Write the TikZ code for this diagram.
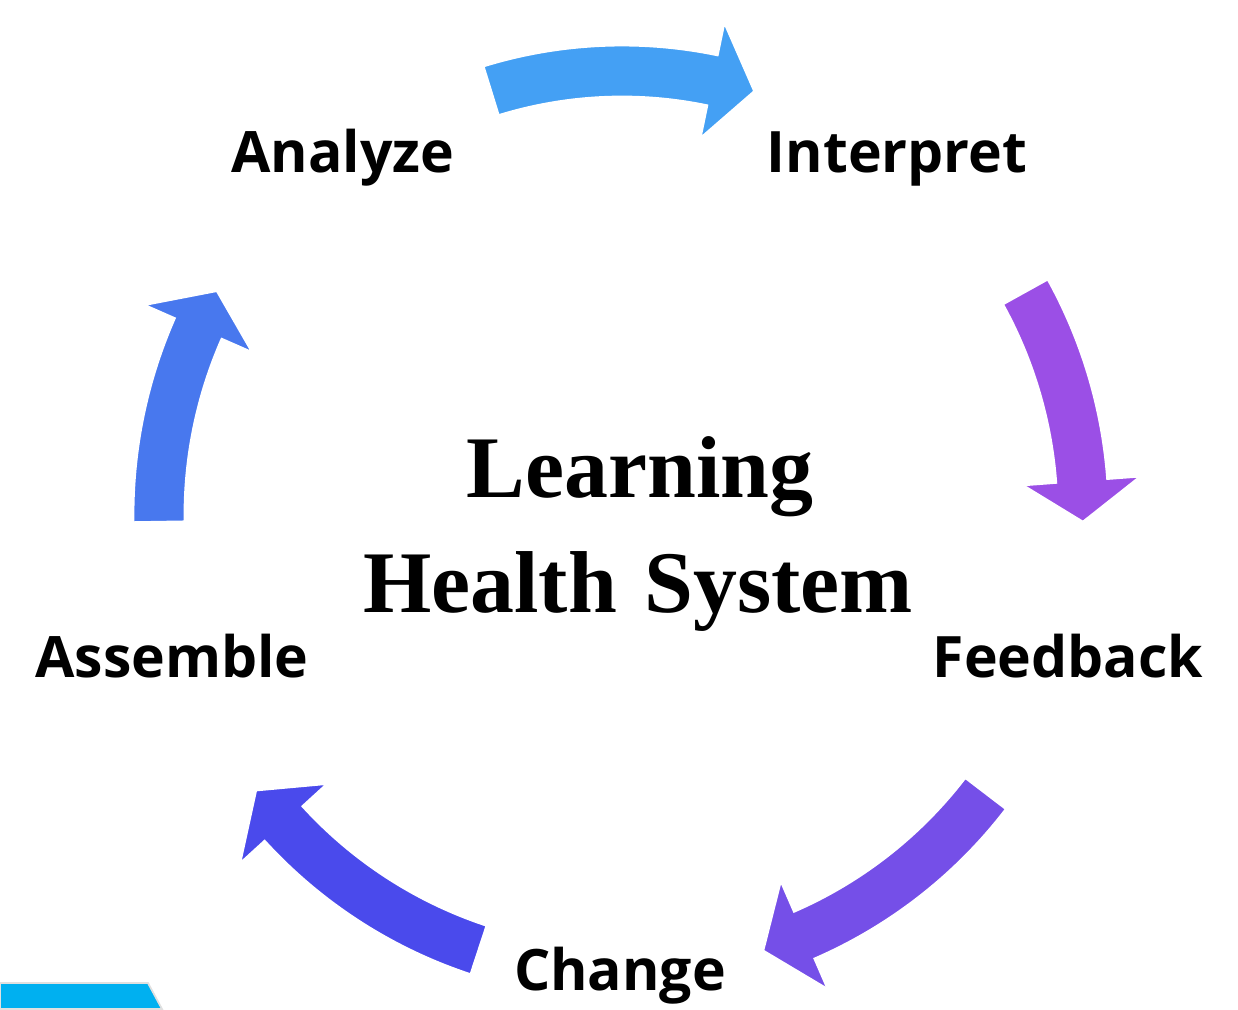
\documentclass[tikz,border=0pt]{standalone}
\usepackage{fontspec}
\setmainfont{Liberation Serif}
\newfontfamily\stepfont{Open Sans}
\usetikzlibrary{positioning}
\definecolor{cyclesky}{HTML}{44A0F4}
\definecolor{cyclepurple}{HTML}{9B4FE6}
\definecolor{cycleviolet}{HTML}{754FE8}
\definecolor{cycleindigo}{HTML}{4A4AEC}
\definecolor{cycleblue}{HTML}{4878EE}
\definecolor{cornercyan}{HTML}{00B0F0}

% curved arrow on the cycle: {colour}{radius}{tail angle}{head base angle}{tip angle}
\newcommand{\cyclearrow}[5]{%
  \filldraw[#1, draw=white, line width=1.6pt, line join=miter]
    (#3:{#2+26}) arc[start angle=#3, end angle=#4, radius={#2+26}]
    -- (#4:{#2+60}) -- (#5:#2) -- (#4:{#2-60}) -- (#4:{#2-26})
    arc[start angle=#4, end angle=#3, radius={#2-26}] -- cycle;}

\begin{document}
\begin{tikzpicture}[x=0.02cm, y=0.02cm,
    steplabel/.style={font=\stepfont\fontsize{32.5}{40}\selectfont\bfseries, anchor=base, inner sep=0pt},
    titleline/.style={font=\fontsize{50}{60}\selectfont\bfseries, anchor=base, inner sep=0pt}
]
\useasboundingbox (-622,-494) rectangle (616,515);

% Arrows around the cycle
\cyclearrow{cyclesky}{444}{107.2}{78.3}{72.6}
\cyclearrow{cyclepurple}{461}{29}{4.3}{-0.9}
\cyclearrow{cycleviolet}{458}{-37.4}{-66.5}{-72.1}
\cyclearrow{cycleindigo}{458}{-108.2}{-137.6}{-143.1}
\cyclearrow{cycleblue}{463}{180.9}{156.3}{151.0}

% Steps
\node[steplabel] (analyze) at (-279,343) {Analyze};
\node[steplabel] (interpret) at (275,343) {Interpret};
\node[steplabel] (feedback) at (446,-162) {Feedback};
\node[steplabel] (change) at (-2,-475) {Change};
\node[steplabel] (assemble) at (-450,-162) {Assemble};

% Title in the middle
\node[titleline] (learning) at (18,18) {Learning};
\node[titleline] (system) at (16,-97) {Health\hspace{0.06em} System};

% Corner tab
\filldraw[cornercyan, draw=black!12, line width=1pt] (-622,-494) -- (-622,-468) -- (-474,-468) -- (-460,-494) -- cycle;
\end{tikzpicture}
\end{document}
